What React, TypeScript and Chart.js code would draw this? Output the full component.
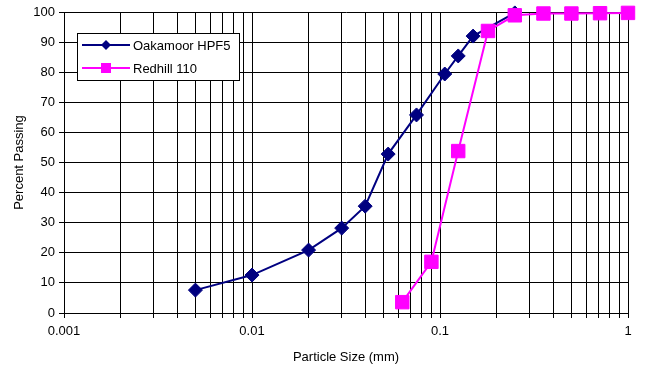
import React, { useEffect, useRef } from "react";
import { Chart, registerables } from "chart.js";

Chart.register(...registerables);

const oakSizes = [0.005, 0.01, 0.02, 0.03, 0.04, 0.053, 0.075, 0.106, 0.125, 0.15, 0.25];
const oakPassing = [7.6, 12.6, 20.9, 28.2, 35.5, 52.8, 65.8, 79.4, 85.4, 92, 99.7];

const redSizes = [0.063, 0.09, 0.125, 0.18, 0.25, 0.355, 0.5, 0.71, 1.0];
const redPassing = [3.6, 17, 53.8, 93.7, 98.9, 99.5, 99.5, 99.6, 99.7];

const xTickValues = [
  0.001, 0.002, 0.003, 0.004, 0.005, 0.006, 0.007, 0.008, 0.009,
  0.01, 0.02, 0.03, 0.04, 0.05, 0.06, 0.07, 0.08, 0.09,
  0.1, 0.2, 0.3, 0.4, 0.5, 0.6, 0.7, 0.8, 0.9, 1,
];
const xMajorLabels = ["0.001", "0.01", "0.1", "1"];

const FONT = "'Liberation Sans', Arial, sans-serif";
const NAVY = "#000080";
const MAGENTA = "#FF00FF";

const legendPlugin = {
  id: "boxLegend",
  afterDraw(chart: any) {
    const ctx = chart.ctx;
    ctx.save();
    const x0 = 77, y0 = 33, w = 162, h = 47;
    ctx.fillStyle = "#fff";
    ctx.fillRect(x0, y0, w, h);
    ctx.strokeStyle = "#000";
    ctx.lineWidth = 1;
    ctx.strokeRect(x0 + 0.5, y0 + 0.5, w, h);
    const items = [
      { label: "Oakamoor HPF5", color: NAVY, style: "diamond", y: 45 },
      { label: "Redhill 110", color: MAGENTA, style: "square", y: 68 },
    ];
    ctx.font = `13px ${FONT}`;
    ctx.textBaseline = "middle";
    ctx.textAlign = "left";
    for (const it of items) {
      ctx.strokeStyle = it.color;
      ctx.lineWidth = 2;
      ctx.beginPath();
      ctx.moveTo(82, it.y);
      ctx.lineTo(130, it.y);
      ctx.stroke();
      ctx.fillStyle = it.color;
      ctx.beginPath();
      if (it.style === "diamond") {
        ctx.moveTo(106, it.y - 5);
        ctx.lineTo(111, it.y);
        ctx.lineTo(106, it.y + 5);
        ctx.lineTo(101, it.y);
        ctx.closePath();
      } else {
        ctx.rect(101, it.y - 5, 10, 10);
      }
      ctx.fill();
      ctx.fillStyle = "#000";
      ctx.fillText(it.label, 133, it.y + 1);
    }
    ctx.restore();
  },
};

export default function App() {
  const ref = useRef<HTMLCanvasElement | null>(null);
  useEffect(() => {
    document.body.style.margin = "0";
    const canvas = ref.current;
    if (!canvas) return;
    const chart = new Chart(canvas, {
      type: "scatter",
      data: {
        datasets: [
          {
            label: "Oakamoor HPF5",
            data: oakSizes.map((x, i) => ({ x, y: oakPassing[i] })),
            showLine: true,
            borderColor: NAVY,
            backgroundColor: NAVY,
            borderWidth: 2,
            pointStyle: "rectRot",
            pointRadius: 7,
            pointBorderWidth: 1,
            order: 1,
            clip: false,
          },
          {
            label: "Redhill 110",
            data: redSizes.map((x, i) => ({ x, y: redPassing[i] })),
            showLine: true,
            borderColor: MAGENTA,
            backgroundColor: MAGENTA,
            borderWidth: 2,
            pointStyle: "rect",
            pointRadius: 9.5,
            pointBorderWidth: 1,
            order: 0,
            clip: false,
          },
        ] as any,
      },
      options: {
        animation: false,
        responsive: false,
        events: [],
        layout: { padding: { top: 12, right: 19, left: 0, bottom: 0 } },
        plugins: { legend: { display: false }, tooltip: { enabled: false } },
        scales: {
          x: {
            type: "logarithmic",
            min: 0.001,
            max: 1,
            afterBuildTicks: (s: any) => {
              s.ticks = xTickValues.map((v) => ({ value: v }));
            },
            afterFit: (s: any) => {
              s.height = 54;
            },
            grid: { color: "#000", tickLength: 5, lineWidth: 1 },
            border: { color: "#000", width: 1 },
            ticks: {
              autoSkip: false,
              maxRotation: 0,
              color: "#000",
              padding: 6,
              font: { family: FONT, size: 13 },
              callback: (v: any) => {
                const s = String(Number(v));
                return xMajorLabels.includes(s) ? s : "";
              },
            },
            title: {
              display: true,
              text: "Particle Size (mm)",
              color: "#000",
              font: { family: FONT, size: 13 },
              padding: { top: 4, bottom: 2 },
            },
          },
          y: {
            min: 0,
            max: 100,
            afterFit: (s: any) => {
              s.width = 64;
            },
            grid: { color: "#000", tickLength: 5, lineWidth: 1 },
            border: { color: "#000", width: 1 },
            ticks: {
              stepSize: 10,
              color: "#000",
              padding: 4,
              font: { family: FONT, size: 13 },
            },
            title: {
              display: true,
              text: "Percent Passing",
              color: "#000",
              font: { family: FONT, size: 13 },
              padding: { top: 12, bottom: 4 },
            },
          },
        },
      } as any,
      plugins: [legendPlugin],
    });
    return () => chart.destroy();
  }, []);
  return (
    <div style={{ width: 647, height: 367 }}>
      <canvas ref={ref} width={647} height={367} style={{ display: "block" }} />
    </div>
  );
}
